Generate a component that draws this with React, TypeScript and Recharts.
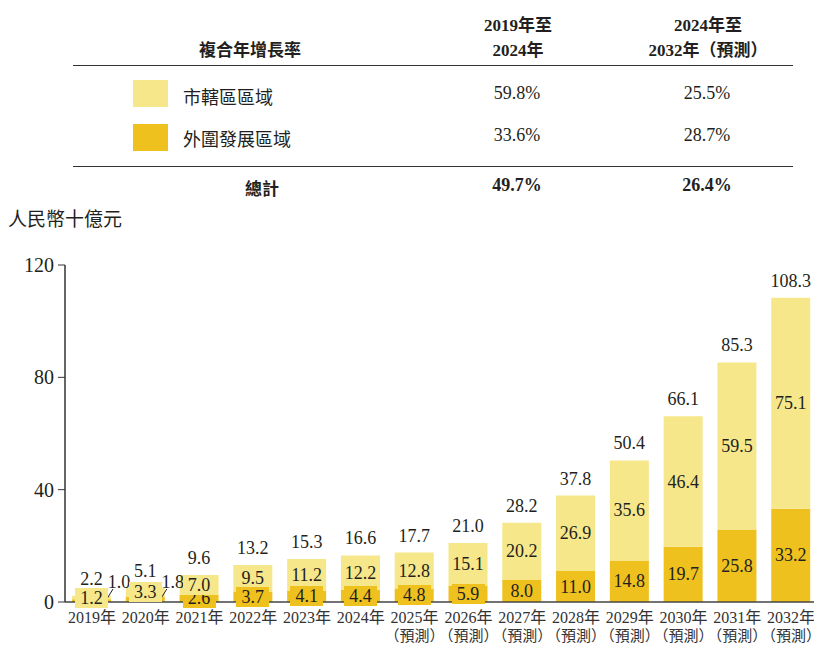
import React from "react";
import { BarChart, Bar, XAxis, YAxis, LabelList } from "recharts";

// values, RMB billion
const years = ["2019年", "2020年", "2021年", "2022年", "2023年", "2024年", "2025年", "2026年", "2027年", "2028年", "2029年", "2030年", "2031年", "2032年"];
const forecast = [false, false, false, false, false, false, true, true, true, true, true, true, true, true];
const cityValues = [1.2, 3.3, 7.0, 9.5, 11.2, 12.2, 12.8, 15.1, 20.2, 26.9, 35.6, 46.4, 59.5, 75.1];
const outerValues = [1.0, 1.8, 2.6, 3.7, 4.1, 4.4, 4.8, 5.9, 8.0, 11.0, 14.8, 19.7, 25.8, 33.2];
const totals = [2.2, 5.1, 9.6, 13.2, 15.3, 16.6, 17.7, 21.0, 28.2, 37.8, 50.4, 66.1, 85.3, 108.3];
const yTicks = [0, 40, 80, 120];

const cagrRows = [
	{ name: "市轄區區域", a: "59.8%", b: "25.5%" },
	{ name: "外圍發展區域", a: "33.6%", b: "28.7%" },
];
const cagrTotal = { name: "總計", a: "49.7%", b: "26.4%" };

const LIGHT = "#F6E78A";
const DARK = "#EEC11E";
const INK = "#231F20";
const FONT = '"Liberation Serif", "Noto Sans CJK TC", serif';

const data = years.map((y, i) => ({
	year: y,
	forecast: forecast[i],
	city: cityValues[i],
	outer: outerValues[i],
	total: totals[i],
}));

// segment label, with a box in the segment colour behind it like the source
const innerLabel = (fill: string, callout: boolean) => (props: any) => {
	const { x, y, width, height, value } = props;
	const txt = Number(value).toFixed(1);
	const cx = x + width / 2;
	const cy = y + height / 2;
	if (callout && value < 2) {
		const right = x + width;
		return (
			<g>
				<line x1={right - 6} y1={y + height} x2={right + 2} y2={y + height - 13} stroke={INK} strokeWidth={1} />
				<text x={right + 8} y={y + height - 14} textAnchor="middle" fontSize={18} fill={INK} fontFamily={FONT}>
					{txt}
				</text>
			</g>
		);
	}
	const w = txt.length * 9 + 6;
	const needBox = height < 22;
	return (
		<g>
			{needBox && (
				<rect
					x={Math.round(cx - w / 2)}
					y={Math.round(cy - 10)}
					width={w}
					height={20}
					fill={fill}
					shapeRendering="crispEdges"
				/>
			)}
			<text x={cx} y={cy + 6} textAnchor="middle" fontSize={18} fill={INK} fontFamily={FONT}>
				{txt}
			</text>
		</g>
	);
};

const totalLabel = (props: any) => {
	const { x, y, width, value } = props;
	return (
		<text x={x + width / 2} y={y - 11} textAnchor="middle" fontSize={18} fill={INK} fontFamily={FONT}>
			{Number(value).toFixed(1)}
		</text>
	);
};

const YearTick = (props: any) => {
	const { x, y, payload, index } = props;
	return (
		<g>
			<text x={x} y={y + 13} textAnchor="middle" fontSize={16} fill="#333" fontFamily={FONT}>
				{payload.value}
			</text>
			{forecast[index] && (
				<text x={x} y={y + 31} textAnchor="middle" fontSize={15} fill="#333" fontFamily={FONT}>
					（預測）
				</text>
			)}
		</g>
	);
};

const abs = (left: number, top: number, extra: any = {}): React.CSSProperties => ({
	position: "absolute",
	left,
	top,
	whiteSpace: "nowrap",
	...extra,
});

const centered = (cx: number, top: number, extra: any = {}): React.CSSProperties =>
	abs(cx - 100, top, { width: 200, textAlign: "center", ...extra });

export default function App() {
	return (
		<div
			style={{
				position: "absolute",
				left: 0,
				top: 0,
				width: 814,
				height: 645,
				overflow: "hidden",
				background: "#fff",
				fontFamily: FONT,
				color: INK,
			}}
		>
			{/* CAGR table */}
			<div style={centered(250, 36, { fontWeight: "bold", fontSize: 17 })}>複合年增長率</div>
			<div style={centered(518, 13, { fontWeight: "bold", fontSize: 17, lineHeight: "25px" })}>
				2019年至
				<br />
				2024年
			</div>
			<div style={centered(708, 13, { fontWeight: "bold", fontSize: 17, lineHeight: "25px" })}>
				2024年至
				<br />
				2032年（預測）
			</div>
			<div style={abs(73, 65, { width: 720, height: 0, borderTop: "1.5px solid #333" })} />
			{cagrRows.map((r, i) => (
				<React.Fragment key={r.name}>
					<div style={abs(133, 80 + i * 44, { width: 35, height: 27, background: i === 0 ? LIGHT : DARK })} />
					<div style={abs(183, 83 + i * 42, { fontSize: 18 })}>{r.name}</div>
					<div style={centered(517, 83 + i * 42, { fontSize: 18 })}>{r.a}</div>
					<div style={centered(707, 83 + i * 42, { fontSize: 18 })}>{r.b}</div>
				</React.Fragment>
			))}
			<div style={abs(73, 166, { width: 720, height: 0, borderTop: "1.5px solid #333" })} />
			<div style={centered(262, 175, { fontWeight: "bold", fontSize: 17 })}>{cagrTotal.name}</div>
			<div style={centered(517, 175, { fontWeight: "bold", fontSize: 18 })}>{cagrTotal.a}</div>
			<div style={centered(707, 175, { fontWeight: "bold", fontSize: 18 })}>{cagrTotal.b}</div>
			<div style={abs(8, 204, { fontSize: 19 })}>人民幣十億元</div>

			<div style={abs(0, 0)}>
				<BarChart width={818} height={645} data={data} margin={{ top: 265, right: 0, bottom: 0, left: 0 }}>
					<XAxis
						dataKey="year"
						height={43}
						interval={0}
						tickLine={false}
						axisLine={{ stroke: "#444", strokeWidth: 1.5 }}
						tick={<YearTick />}
					/>
					<YAxis
						width={65}
						domain={[0, 120]}
						ticks={yTicks}
						tickSize={7}
						tickMargin={4}
						tickLine={{ stroke: "#333" }}
						axisLine={{ stroke: "#333", strokeWidth: 1.5 }}
						tick={{ fontSize: 20, fill: INK, fontFamily: FONT }}
					/>
					<Bar dataKey="outer" stackId="a" fill={DARK} barSize={39} isAnimationActive={false}>
						<LabelList dataKey="outer" content={innerLabel(DARK, true)} />
					</Bar>
					<Bar dataKey="city" stackId="a" fill={LIGHT} barSize={39} isAnimationActive={false}>
						<LabelList dataKey="city" content={innerLabel(LIGHT, false)} />
						<LabelList dataKey="total" content={totalLabel} />
					</Bar>
				</BarChart>
			</div>
		</div>
	);
}
